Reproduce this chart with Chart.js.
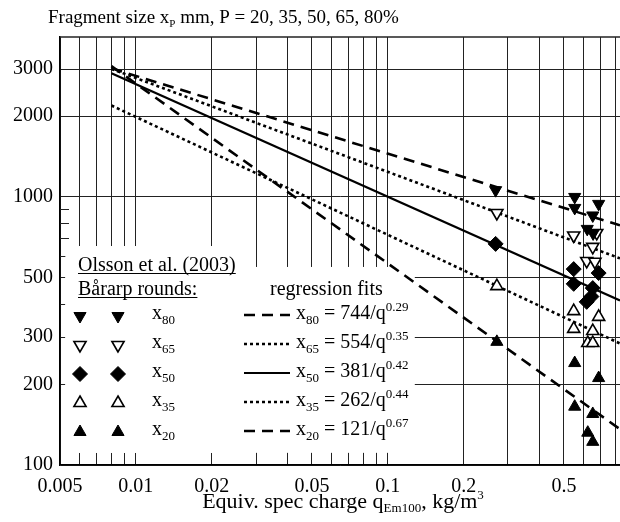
<!DOCTYPE html>
<html>
<head>
<meta charset="utf-8">
<script src="https://cdn.jsdelivr.net/npm/chart.js"></script>
<style>
  body { margin: 0; background: #fff; }
  canvas { display: block; }
</style>
</head>
<body>
<canvas id="chart" width="620" height="522"></canvas>
<script>
// measured points, Olsson et al. (2003), Bårarp rounds
const q80 = [0.268, 0.552, 0.552, 0.687, 0.651, 0.619, 0.653];
const x80 = [1060, 1000, 910, 942, 853, 760, 731];
const q65 = [0.271, 0.547, 0.675, 0.651, 0.616, 0.664];
const x65 = [871, 718, 734, 651, 577, 573];
const q50 = [0.268, 0.547, 0.687, 0.547, 0.651, 0.643, 0.616];
const x50 = [668, 538, 520, 474, 457, 425, 406];
const q35 = [0.271, 0.547, 0.687, 0.547, 0.651, 0.622, 0.651];
const x35 = [465, 375, 357, 322, 316, 285, 285];
const q20 = [0.271, 0.552, 0.687, 0.552, 0.651, 0.622, 0.651];
const x20 = [288, 240, 211, 165, 155, 132, 122];

// regression fit lines, end points
const fitQ = [0.008, 0.835];
const fit80 = [3018, 784];
const fit65 = [3003, 590];
const fit50 = [2896, 411];
const fit35 = [2193, 284];
const fit20 = [3075, 136];

const fitLabels = [
  ['80', ' = 744/q', '0.29'],
  ['65', ' = 554/q', '0.35'],
  ['50', ' = 381/q', '0.42'],
  ['35', ' = 262/q', '0.44'],
  ['20', ' = 121/q', '0.67']
];

// axes
const xGrid = [0.005, 0.006, 0.007, 0.008, 0.009, 0.01, 0.02, 0.03, 0.04, 0.05, 0.06, 0.07, 0.08, 0.09,
               0.1, 0.2, 0.3, 0.4, 0.5, 0.6, 0.7, 0.8];
const xLabels = [0.005, 0.01, 0.02, 0.05, 0.1, 0.2, 0.5];
const yGrid = [100, 200, 300, 500, 1000, 2000, 3000];
const yMinor = [400, 600, 700, 800, 900];

const SERIF = '"Liberation Serif", "DejaVu Serif", serif';
const DASH = [11, 7];
const DOT = [3, 3];

const pts = (qs, vs) => qs.map((q, i) => ({ x: q, y: vs[i] }));

const markers = [
  { style: 'triangle', rotation: 180, fill: '#000' },
  { style: 'triangle', rotation: 180, fill: '#fff' },
  { style: 'rectRot', rotation: 0, fill: '#000' },
  { style: 'triangle', rotation: 0, fill: '#fff' },
  { style: 'triangle', rotation: 0, fill: '#000' }
];
const lineStyles = [
  { dash: DASH, width: 2.6 },
  { dash: DOT, width: 2.6 },
  { dash: [], width: 2.2 },
  { dash: DOT, width: 2.6 },
  { dash: DASH, width: 2.6 }
];

function scatterSet(qs, vs, m) {
  return {
    type: 'scatter',
    data: pts(qs, vs),
    pointStyle: m.style,
    rotation: m.rotation,
    pointRadius: m.style === 'rectRot' ? 7.5 : 7,
    backgroundColor: m.fill,
    borderColor: '#000',
    borderWidth: m.fill === '#fff' ? 1.6 : 1,
    order: 1
  };
}
function fitSet(vs, ls) {
  return {
    type: 'line',
    data: pts(fitQ, vs),
    borderColor: '#000',
    borderWidth: ls.width,
    borderDash: ls.dash,
    pointRadius: 0,
    fill: false,
    order: 2
  };
}

// rich text helper: parts = [text, size, dy]
function rich(ctx, parts, x, y, measureOnly) {
  let cx = x;
  for (const [t, size, dy] of parts) {
    ctx.font = size + 'px ' + SERIF;
    if (!measureOnly) ctx.fillText(t, cx, y + dy);
    cx += ctx.measureText(t).width;
  }
  return cx - x;
}

function marker(ctx, m, x, y) {
  ctx.save();
  ctx.fillStyle = m.fill;
  ctx.strokeStyle = '#000';
  ctx.lineWidth = m.fill === '#fff' ? 1.6 : 1;
  Chart.helpers.drawPoint(ctx, {
    pointStyle: m.style, rotation: m.rotation,
    radius: m.style === 'rectRot' ? 7.5 : 7, borderWidth: ctx.lineWidth
  }, x, y);
  ctx.restore();
}

const decor = {
  id: 'decor',
  beforeDatasetsDraw(chart) {
    const { ctx, chartArea: a, scales: { x, y } } = chart;
    ctx.save();
    // minor y stubs
    ctx.strokeStyle = '#222';
    ctx.lineWidth = 1;
    yMinor.forEach(v => {
      const py = Math.round(y.getPixelForValue(v)) + 0.5;
      ctx.beginPath(); ctx.moveTo(a.left, py); ctx.lineTo(a.left + 9, py); ctx.stroke();
    });
    // top border
    ctx.lineWidth = 1.5;
    ctx.beginPath(); ctx.moveTo(a.left, a.top); ctx.lineTo(a.right, a.top); ctx.stroke();
    // white legend box over the grid
    ctx.fillStyle = '#fff';
    const l = x.getPixelForValue(0.00525), b = y.getPixelForValue(111);
    ctx.fillRect(l, y.getPixelForValue(656), x.getPixelForValue(0.0259) - l, b - y.getPixelForValue(656));
    ctx.fillRect(l, y.getPixelForValue(548), x.getPixelForValue(0.128) - l, b - y.getPixelForValue(548));
    ctx.restore();
  },
  afterDraw(chart) {
    const { ctx } = chart;
    ctx.save();
    ctx.fillStyle = '#000';
    ctx.strokeStyle = '#000';
    ctx.textBaseline = 'alphabetic';
    ctx.textAlign = 'left';

    // title
    rich(ctx, [['Fragment size x', 19, 0], ['P', 11, 4], [' mm, P = 20, 35, 50, 65, 80%', 19, 0]], 48, 23);

    // x axis title
    const xt = [['Equiv. spec charge q', 22, 0], ['Em100', 13, 4], [', kg/m', 22, 0], ['3', 13, -9]];
    const w = rich(ctx, xt, 0, 0, true);
    rich(ctx, xt, 343 - w / 2, 508);

    // legend: measured data
    ctx.font = '20px ' + SERIF;
    ctx.fillText('Olsson et al. (2003)', 78, 271);
    ctx.fillText('Bårarp rounds:', 78, 295);
    ctx.lineWidth = 1;
    [[271, 'Olsson et al. (2003)'], [295, 'Bårarp rounds:']].forEach(([by, t]) => {
      const tw = ctx.measureText(t).width;
      ctx.beginPath(); ctx.moveTo(78, by + 2.5); ctx.lineTo(78 + tw, by + 2.5); ctx.stroke();
    });
    ctx.fillText('regression fits', 270, 295);

    const rows = [316, 345, 374, 403, 432];
    rows.forEach((ry, i) => {
      marker(ctx, markers[i], 80, ry);
      marker(ctx, markers[i], 118, ry);
      ctx.fillStyle = '#000';
      rich(ctx, [['x', 20, 0], [fitLabels[i][0], 13, 5]], 152, ry + 3);

      ctx.save();
      ctx.lineWidth = lineStyles[i].width;
      ctx.setLineDash(lineStyles[i].dash);
      ctx.beginPath(); ctx.moveTo(244, ry - 1); ctx.lineTo(290, ry - 1); ctx.stroke();
      ctx.restore();
      rich(ctx, [['x', 20, 0], [fitLabels[i][0], 13, 5], [fitLabels[i][1], 20, 0], [fitLabels[i][2], 13, -8]], 296, ry + 3);
    });
    ctx.restore();
  }
};

const ctx = document.getElementById('chart').getContext('2d');
new Chart(ctx, {
  data: {
    datasets: [
      fitSet(fit80, lineStyles[0]),
      fitSet(fit65, lineStyles[1]),
      fitSet(fit50, lineStyles[2]),
      fitSet(fit35, lineStyles[3]),
      fitSet(fit20, lineStyles[4]),
      scatterSet(q80, x80, markers[0]),
      scatterSet(q65, x65, markers[1]),
      scatterSet(q50, x50, markers[2]),
      scatterSet(q35, x35, markers[3]),
      scatterSet(q20, x20, markers[4])
    ]
  },
  options: {
    responsive: false,
    animation: false,
    layout: { autoPadding: false, padding: { top: 37, right: 0, left: 0, bottom: 0 } },
    plugins: { legend: { display: false }, tooltip: { enabled: false } },
    scales: {
      x: {
        type: 'logarithmic',
        min: 0.005,
        max: 0.835,
        afterBuildTicks: s => { s.ticks = xGrid.map(v => ({ value: v })); },
        afterFit: s => { s.height = 57; s.paddingLeft = 0; s.paddingRight = 0; },
        grid: { color: '#222', lineWidth: 1, drawTicks: false },
        border: { color: '#000', width: 1.5 },
        ticks: {
          autoSkip: false, maxRotation: 0, padding: 10, color: '#000',
          font: { family: SERIF, size: 20 },
          callback: v => xLabels.includes(v) ? String(v) : ''
        }
      },
      y: {
        type: 'logarithmic',
        min: 100,
        max: 3950,
        afterBuildTicks: s => { s.ticks = yGrid.map(v => ({ value: v })); },
        afterFit: s => { s.width = 60; s.paddingTop = 0; s.paddingBottom = 0; },
        grid: { color: '#222', lineWidth: 1, drawTicks: false },
        border: { color: '#000', width: 1.5 },
        ticks: {
          autoSkip: false, padding: 7, color: '#000',
          font: { family: SERIF, size: 20 },
          callback: v => String(v)
        }
      }
    }
  },
  plugins: [decor]
});
</script>
</body>
</html>
